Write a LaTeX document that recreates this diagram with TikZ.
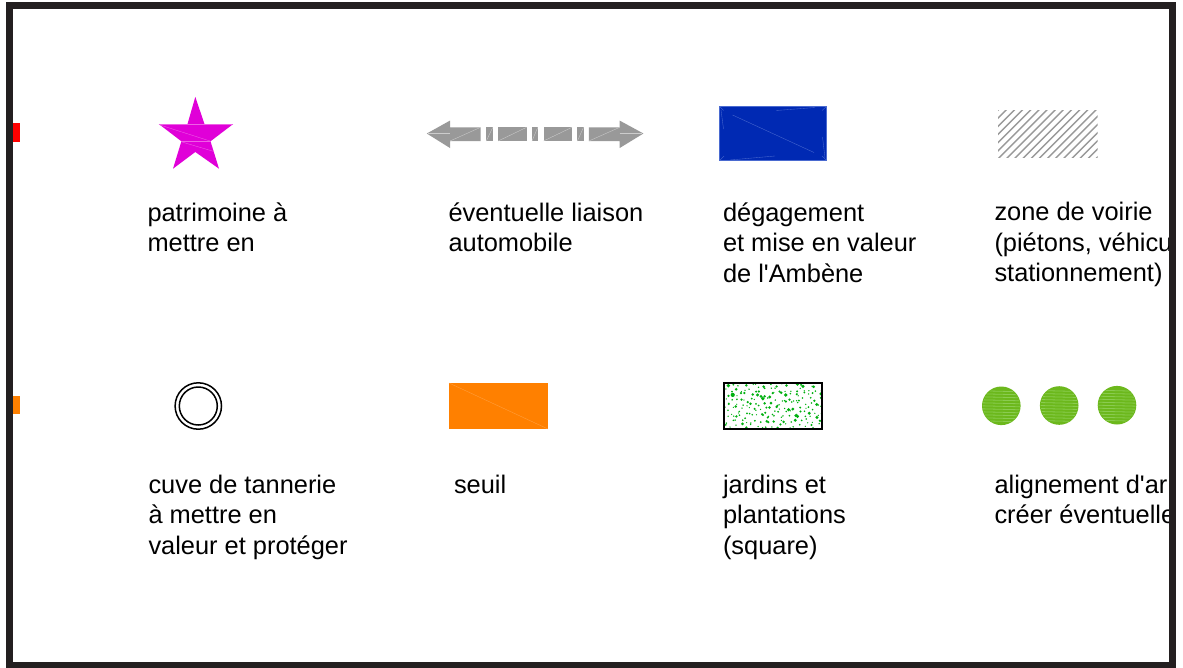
\documentclass[tikz,border=0pt]{standalone}
\usepackage{fontspec}
\setmainfont{Liberation Sans}
\definecolor{frame}{HTML}{231F20}
\definecolor{mag}{HTML}{E000D8}
\definecolor{magl}{HTML}{EE60E6}
\definecolor{grayf}{HTML}{999999}
\definecolor{grayl}{HTML}{CCCCCC}
\definecolor{blu}{HTML}{0029B3}
\definecolor{blul}{HTML}{4A6AD0}
\definecolor{orng}{HTML}{FF8000}
\definecolor{orngl}{HTML}{FFA040}
\definecolor{grn}{HTML}{6CB81C}
\definecolor{grnl}{HTML}{8ACC50}
\definecolor{speck}{HTML}{00B010}
\tikzset{
  label text/.style={anchor=north west,inner sep=0pt,outer sep=0pt,align=left,text=black,
    font=\fontsize{25.4}{30.5}\selectfont},
  seam/.style={line width=0.35pt},
  ring/.style={draw=black,line width=1.5pt,fill=none},
}
\begin{document}
\begin{tikzpicture}[x=1pt,y=-1pt]
\useasboundingbox (0,0) rectangle (1183,667);
\fill[white] (0,0) rectangle (1183,667);
% side tabs
\fill[red] (13,123) rectangle (20,142);
\fill[orng] (13,396) rectangle (20,414);
% star
\fill[mag] (195.3,96.9) -- (204.5,124) -- (233.2,124) -- (210.5,141.3) -- (219,168.7) -- (195.3,152) -- (173,168.7) -- (181.4,141.3) -- (158.8,124) -- (187.5,124) -- cycle;
\draw[magl,seam] (158.8,124) -- (233.2,124);
\draw[magl,seam] (181.4,141.3) -- (210.5,141.3);
\draw[magl,seam] (160,125) -- (210,141);
\draw[magl,seam] (182,142) -- (214,151.5);
% double arrow
\fill[grayf] (426.8,133.5) -- (450,120.6) -- (450,127.3) -- (480.6,127.3) -- (480.6,141) -- (450,141) -- (450,148) -- cycle;
\fill[grayf] (486.3,127.3) rectangle (492.8,141);
\fill[grayf] (498.2,127.3) rectangle (526.6,141);
\fill[grayf] (532,127.3) rectangle (537.8,141);
\fill[grayf] (543.5,127.3) rectangle (572,141);
\fill[grayf] (577.4,127.3) rectangle (583.5,141);
\fill[grayf] (643.4,133.5) -- (619.7,120.6) -- (619.7,127.3) -- (588.9,127.3) -- (588.9,141) -- (619.7,141) -- (619.7,148) -- cycle;
\foreach \a/\b in {450/480.6,486.3/492.8,498.2/526.6,532/537.8,543.5/572,577.4/583.5,588.9/619.7}
  \draw[grayl,seam] (\a,141) -- (\b,127.3);
\draw[grayl,seam] (428,133.5) -- (450,133.5);
\draw[grayl,seam] (619.7,133.5) -- (642,133.5);
% blue rectangle
\fill[blu] (719.3,106) rectangle (826.7,160.7);
\draw[blul,line width=0.7pt] (719.3,106) rectangle (826.7,160.7);
\draw[blul,seam] (732.5,115) -- (814,152.5);
\draw[blul,seam] (719.5,106.5) -- (723.5,110.5) (826.5,106.5) -- (822,110.5) (719.5,160.5) -- (724,156) (826.5,160.5) -- (822,156);
\draw[blul,seam] (776,110.5) -- (815,107.5) (730,160) -- (775,156);
\draw[blul,seam] (721,110) -- (723.5,129) (822.5,137) -- (825,158);
% hatching
\begin{scope}
\clip (998,110) rectangle (1097.7,157);
\foreach \k in {0,...,19}
  \draw[grayf,line width=1.4pt] ({998+8.15*\k-50},160) -- ({998+8.15*\k+5},105);
\end{scope}
% ring
\draw[ring] (198.3,406) circle (23.2);
\draw[ring] (198.3,406) circle (19);
% orange rectangle
\fill[orng] (449,383) rectangle (548,429);
\draw[orngl,seam] (449,383) -- (548,429);
% garden square
\begin{scope}
\clip (723,382.3) rectangle (822.7,429.3);
\pgfmathsetseed{4217}
\foreach \i in {0,...,19}{
  \foreach \j in {0,...,9}{
    \pgfmathsetmacro{\px}{724+4.9*\i+4.9*rnd}
    \pgfmathsetmacro{\py}{383+4.5*\j+4.5*rnd}
    \pgfmathsetmacro{\pr}{0.65+1.5*rnd*rnd}
    \fill[speck] (\px,\py) circle (\pr);
  }
}
\end{scope}
\draw[black,line width=2pt] (723.5,382.8) rectangle (822.2,429);
% green dots
\foreach \cx/\cy in {1001.3/405.8,1059.2/405.5,1117/405.2}{
  \begin{scope}
  \fill[grn] (\cx,\cy) circle (19.3);
  \clip (\cx,\cy) circle (18.6);
  \foreach \d in {-15,-12,...,15}
    \draw[grnl,line width=0.8pt] ({\cx-20},{\cy+\d}) -- ({\cx+20},{\cy+\d+1});
  \end{scope}
}
% labels
\node[label text] (t1) at (147.5,202.5) {patrimoine à\\mettre en};
\node[label text] (t2) at (448.5,202.5) {éventuelle liaison\\automobile};
\node[label text] (t3) at (723,202.5) {dégagement\\et mise en valeur\\de l\textquotesingle Ambène};
\node[label text] (t4) at (994.5,202.5) {zone de voirie\\(piétons, véhicu\\stationnement)};
\node[label text] (t5) at (148.5,475) {cuve de tannerie\\à mettre en\\valeur et protéger};
\node[label text] (t6) at (454,475) {seuil};
\node[label text] (t7) at (723,475) {jardins et\\plantations\\(square)};
\node[label text] (t8) at (994.5,475) {alignement d\textquotesingle ar\\créer éventuelle};
% frame
\draw[frame,line width=7pt] (9.7,5.3) rectangle (1172,665);
\end{tikzpicture}
\end{document}
